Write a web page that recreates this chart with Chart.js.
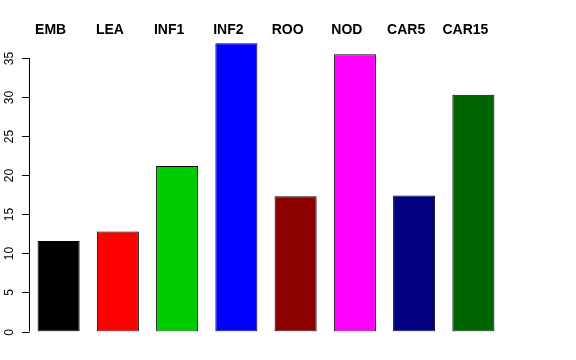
<!DOCTYPE html>
<html>
<head>
<meta charset="utf-8">
<script src="https://cdn.jsdelivr.net/npm/chart.js@4"></script>
<style>
  html, body { margin: 0; padding: 0; background: #fff; }
  #wrap { width: 576px; height: 360px; }
</style>
</head>
<body>
<div id="wrap"><canvas id="barChart" width="576" height="360"></canvas></div>
<script>
const tissues = ['EMB', 'LEA', 'INF1', 'INF2', 'ROO', 'NOD', 'CAR5', 'CAR15'];
const values = [11.6, 12.8, 21.2, 36.9, 17.3, 35.5, 17.4, 30.3];
const barColors = ['#000000', '#FF0000', '#00CD00', '#0000FF', '#8B0000', '#FF00FF', '#000080', '#006400'];
const yTicks = [0, 5, 10, 15, 20, 25, 30, 35];

// R style axis on the left + labels above the bars
const baseAxis = {
    id: 'baseAxis',
    afterDraw(chart) {
        const ctx = chart.ctx;
        const y = chart.scales.y;
        const axisX = 29;
        ctx.save();
        ctx.strokeStyle = '#000';
        ctx.lineWidth = 1;
        ctx.beginPath();
        ctx.moveTo(axisX + 0.5, y.getPixelForValue(yTicks[0]));
        ctx.lineTo(axisX + 0.5, y.getPixelForValue(yTicks[yTicks.length - 1]));
        ctx.stroke();
        ctx.font = '12px "Liberation Sans", Arial, sans-serif';
        ctx.fillStyle = '#000';
        ctx.textAlign = 'center';
        ctx.textBaseline = 'middle';
        yTicks.forEach(function(t) {
            const py = Math.round(y.getPixelForValue(t)) + 0.5;
            ctx.beginPath();
            ctx.moveTo(axisX - 7, py);
            ctx.lineTo(axisX + 0.5, py);
            ctx.stroke();
            ctx.save();
            ctx.translate(10, py);
            ctx.rotate(-Math.PI / 2);
            ctx.fillText(String(t), 0, 0);
            ctx.restore();
        });

        // tissue names on top
        const bars = chart.getDatasetMeta(0).data;
        ctx.font = 'bold 14px "Liberation Sans", Arial, sans-serif';
        ctx.textAlign = 'center';
        ctx.textBaseline = 'alphabetic';
        bars.forEach(function(bar, i) {
            ctx.fillText(tissues[i], bar.x - 8, 34);
        });
        ctx.restore();
    }
};

new Chart(document.getElementById('barChart'), {
    type: 'bar',
    data: {
        labels: tissues,
        datasets: [{
            data: values,
            backgroundColor: barColors,
            borderColor: '#000',
            borderWidth: 1,
            borderSkipped: false,
            barPercentage: 0.71,
            categoryPercentage: 1.0
        }]
    },
    options: {
        responsive: false,
        animation: false,
        layout: {
            padding: { left: 29, right: 73, top: 42.5, bottom: 28.5 }
        },
        plugins: {
            legend: { display: false },
            tooltip: { enabled: false }
        },
        scales: {
            x: { display: false },
            y: { display: false, min: 0, max: 37 }
        }
    },
    plugins: [baseAxis]
});
</script>
</body>
</html>
